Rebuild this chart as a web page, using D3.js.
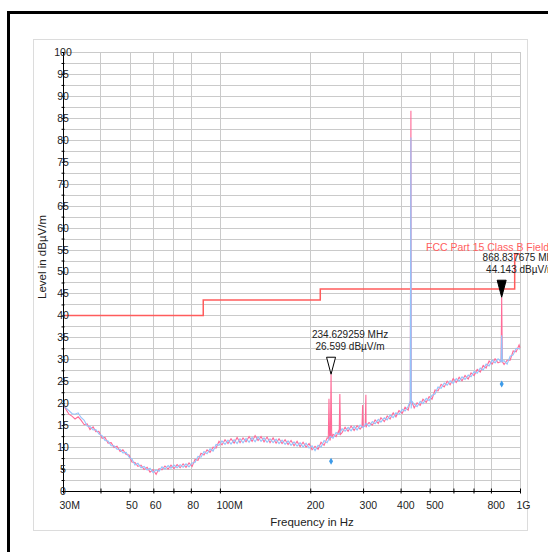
<!DOCTYPE html>
<html>
<head>
<meta charset="utf-8">
<script src="https://cdnjs.cloudflare.com/ajax/libs/d3/7.8.5/d3.min.js"></script>
<style>
  body { margin: 0; background: #fff; }
  svg { display: block; font-family: 'Liberation Sans', Arial, sans-serif; }
</style>
</head>
<body>
<div id="chart"></div>
<script>
// sweep frequencies in MHz
var freq_mhz = [
  30, 30.7, 31.4, 32.2, 32.9, 33.7, 34.4, 35.3, 36.1, 36.9,
  37.8, 38.6, 39.5, 40.5, 41.4, 42.4, 43.4, 44.4, 45.4, 46.5,
  47.5, 48.7, 49.8, 50.9, 52.1, 53.3, 54.6, 55.9, 57.2, 58.5,
  59.9, 61.3, 62.7, 64.1, 65.6, 67.2, 68.7, 70.3, 72.0, 73.7,
  75.4, 77.1, 78.9, 80.8, 82.6, 84.5, 86.5, 88.5, 90.6, 92.7,
  94.9, 97.1, 99.3, 101.6, 104.0, 106.4, 108.9, 111.5, 114.1, 116.7,
  119.4, 122.2, 125.1, 128.0, 131.0, 134.0, 137.1, 140.3, 143.6, 146.9,
  150.4, 153.9, 157.4, 161.1, 164.9, 168.7, 172.6, 176.6, 180.8, 185.0,
  189.3, 193.7, 198.2, 202.8, 207.5, 212.4, 217.3, 222.4, 227.6, 232.9,
  238.3, 243.8, 249.5, 255.3, 261.3, 267.4, 273.6, 280.0, 286.5, 293.2,
  300, 307, 314, 322, 329, 337, 344, 353, 361, 369,
  378, 386, 395, 405, 414, 424, 434, 444, 454, 465,
  475, 487, 498, 509, 521, 533, 546, 559, 572, 585,
  599, 613, 627, 641, 656, 672, 687, 703, 720, 737,
  754, 771, 789, 808, 826, 845, 865, 885, 906, 927,
  949, 971, 993, 1000
];

// pink trace (peak), dBuV/m
var peak_level = [
  19.6, 18.6, 17.5, 17.0, 16.4, 16.9, 16.2, 15.1, 15.3, 14.0,
  14.6, 13.5, 13.6, 12.0, 12.2, 10.9, 11.0, 9.9, 10.2, 9.0,
  9.4, 8.3, 8.2, 6.6, 6.5, 5.6, 5.9, 4.9, 5.4, 4.3,
  4.9, 3.8, 5.1, 4.8, 5.7, 5.0, 5.9, 5.1, 6.0, 5.3,
  6.2, 5.4, 6.4, 5.6, 7.2, 7.0, 8.6, 8.2, 9.4, 8.8,
  10.0, 9.8, 11.3, 10.5, 11.7, 10.8, 11.9, 10.9, 12.2, 11.0,
  12.1, 11.2, 12.4, 11.3, 12.6, 11.5, 12.4, 11.2, 12.3, 11.0,
  12.1, 10.9, 11.9, 10.8, 11.7, 10.6, 11.5, 10.3, 11.3, 10.1,
  11.1, 10.0, 10.8, 9.4, 10.2, 9.5, 11.1, 10.4, 12.1, 11.5,
  12.9, 12.4, 13.9, 13.3, 14.5, 13.6, 14.8, 13.8, 14.9, 14.1,
  15.3, 14.5, 15.6, 15.0, 16.2, 15.4, 16.7, 15.8, 17.1, 16.4,
  17.8, 16.9, 18.3, 17.7, 19.1, 18.4, 19.7, 18.9, 20.1, 19.5,
  20.9, 20.2, 21.5, 20.9, 23.0, 22.8, 24.3, 23.7, 25.0, 24.2,
  25.6, 24.7, 25.9, 25.1, 26.3, 25.5, 26.9, 26.3, 27.7, 27.1,
  28.6, 28.0, 29.6, 28.9, 30.1, 29.2, 30.1, 28.8, 29.8, 29.8,
  31.9, 31.7, 33.3, 32.6
];

// blue trace, dBuV/m
var avg_level = [
  19.4, 18.9, 18.3, 17.6, 17.5, 17.8, 16.8, 16.1, 14.8, 14.7,
  13.9, 14.0, 13.0, 12.6, 11.5, 11.4, 10.3, 10.3, 9.5, 9.5,
  8.7, 8.8, 7.7, 7.3, 5.9, 6.3, 5.3, 5.6, 4.8, 5.2,
  4.2, 4.8, 4.5, 5.5, 5.0, 5.8, 5.2, 5.9, 5.3, 6.0,
  5.4, 6.2, 5.5, 6.4, 6.5, 7.9, 7.7, 9.0, 8.5, 9.6,
  9.1, 10.6, 10.4, 11.4, 10.6, 11.6, 10.7, 11.7, 10.8, 11.9,
  11.0, 12.0, 11.1, 12.2, 11.2, 12.3, 11.3, 12.1, 11.1, 11.9,
  11.0, 11.8, 10.8, 11.6, 10.6, 11.4, 10.4, 11.2, 10.2, 11.0,
  10.0, 10.9, 9.8, 10.3, 9.2, 10.4, 10.0, 11.5, 11.0, 12.4,
  12.0, 13.3, 12.9, 14.2, 13.6, 14.5, 13.7, 14.7, 13.9, 15.0,
  14.4, 15.4, 14.7, 15.8, 15.3, 16.3, 15.7, 16.7, 16.2, 17.3,
  16.7, 17.8, 17.4, 18.6, 18.2, 19.3, 18.8, 19.8, 19.2, 20.4,
  19.9, 21.1, 20.6, 21.8, 22.1, 23.7, 23.4, 24.6, 24.1, 25.1,
  24.5, 25.6, 25.0, 26.0, 25.4, 26.4, 26.0, 27.2, 26.8, 28.0,
  27.5, 28.9, 28.5, 29.8, 29.2, 30.1, 29.3, 29.7, 28.9, 30.7,
  31.0, 32.5, 32.4, 32.3
];

// narrow emissions on top of the noise floor
var peak_spike_freq = [230.9, 234.629259, 251, 299, 306.5, 433, 868.837675];
var peak_spike_top = [21.0, 26.599, 22.1, 19.6, 21.9, 86.6, 44.143];
var peak_spike_base = [12.0, 12.2, 12.9, 14.7, 14.9, 20.5, 29.5];
var avg_spike_freq = [433, 868.837675];
var avg_spike_top = [80.5, 35.5];
var avg_spike_base = [20.5, 29.5];

// FCC Part 15 Class B limit
var limit_freq = [30, 88, 88, 216, 216, 960, 960, 1000];
var limit_level = [40, 40, 43.5, 43.5, 46, 46, 54, 54];

var x_ticks = [30, 40, 50, 60, 70, 80, 100, 200, 300, 400, 500, 600, 700, 800, 1000];
var x_tick_labels = ['30M', '', '50', '60', '', '80', '100M', '200', '300', '400', '500', '', '', '800', '1G'];
var y_ticks = [0, 2.5, 5, 7.5, 10, 12.5, 15, 17.5, 20, 22.5, 25, 27.5, 30, 32.5, 35, 37.5, 40, 42.5, 45, 47.5,
  50, 52.5, 55, 57.5, 60, 62.5, 65, 67.5, 70, 72.5, 75, 77.5, 80, 82.5, 85, 87.5, 90, 92.5, 95, 97.5, 100];

var marker_freq = [234.629259, 868.837675];
var marker_level = [26.599, 44.143];
var marker_filled = [false, true];
var marker_text = [['234.629259 MHz', '26.599 dB\u00b5V/m'], ['868.837675 MHz', '44.143 dB\u00b5V/m']];
var marker2_level = [6.8, 24.4];

(function() {
  'use strict';

  var svg_width = 548;
  var svg_height = 552;
  var left = 63, right = 520, top = 52, bottom = 491;

  var svg = d3.select('#chart').append('svg')
    .attr('width', svg_width)
    .attr('height', svg_height);

  var x = d3.scaleLog().domain([30, 1000]).range([left, right]);
  var y = d3.scaleLinear().domain([0, 100]).range([bottom, top]);

  // outer frame + panel
  svg.append('rect')
    .attr('x', 8.5).attr('y', 12.5)
    .attr('width', 600).attr('height', 600)
    .attr('fill', 'none').attr('stroke', '#000').attr('stroke-width', 3);
  svg.append('rect')
    .attr('x', 33.5).attr('y', 39.5)
    .attr('width', 494).attr('height', 491)
    .attr('fill', '#fff').attr('stroke', '#dcdcdc');

  // grid
  var grid = svg.append('g').attr('stroke', '#cacaca').attr('stroke-width', 1);
  grid.selectAll('line.h')
    .data(y_ticks)
    .enter()
    .append('line')
    .attr('class', 'h')
    .attr('x1', left).attr('x2', right)
    .attr('y1', function(d) { return Math.round(y(d)) + 0.5; })
    .attr('y2', function(d) { return Math.round(y(d)) + 0.5; });
  grid.selectAll('line.v')
    .data(x_ticks.slice(1))
    .enter()
    .append('line')
    .attr('class', 'v')
    .attr('y1', top).attr('y2', bottom)
    .attr('x1', function(d) { return Math.round(x(d)) + 0.5; })
    .attr('x2', function(d) { return Math.round(x(d)) + 0.5; });

  // limit line
  var limit_data = limit_freq.map(function(f, i) { return {f: f, v: limit_level[i]}; });
  var line = d3.line()
    .x(function(d) { return x(d.f); })
    .y(function(d) { return y(d.v); });

  svg.append('path')
    .datum(limit_data)
    .attr('d', line)
    .attr('fill', 'none')
    .attr('stroke', '#ff5c5c')
    .attr('stroke-width', 1.5);

  function build_trace(levels, s_freq, s_top, s_base) {
    var pts = freq_mhz.map(function(f, i) { return {f: f, v: levels[i]}; });
    s_freq.forEach(function(f, i) {
      pts.push({f: f * 0.995, v: s_base[i]});
      pts.push({f: f, v: s_top[i]});
      pts.push({f: f * 1.005, v: s_base[i]});
    });
    pts.sort(function(a, b) { return a.f - b.f; });
    return pts;
  }

  svg.append('path')
    .datum(build_trace(peak_level, peak_spike_freq, peak_spike_top, peak_spike_base))
    .attr('d', line)
    .attr('fill', 'none')
    .attr('stroke', '#ff6b98')
    .attr('stroke-width', 1.1);

  svg.append('path')
    .datum(build_trace(avg_level, avg_spike_freq, avg_spike_top, avg_spike_base))
    .attr('d', line)
    .attr('fill', 'none')
    .attr('stroke', '#94c4fb')
    .attr('stroke-width', 1.1);

  // axes
  var x_axis = svg.append('g')
    .attr('transform', 'translate(0,' + bottom + ')')
    .call(d3.axisBottom(x)
      .tickValues(x_ticks)
      .tickSizeOuter(0)
      .tickFormat(function(d, i) { return x_tick_labels[i]; }));
  x_axis.select('.domain').attr('stroke', '#000');
  x_axis.selectAll('.tick line').attr('y1', -2.5).attr('y2', 2.5).attr('stroke', '#000');
  x_axis.selectAll('.tick text')
    .attr('x', -4).attr('y', 17.5).attr('dy', 0)
    .attr('text-anchor', 'start')
    .attr('font-size', 10.5)
    .attr('fill', '#222');

  var y_axis = svg.append('g')
    .attr('transform', 'translate(' + left + ',0)')
    .call(d3.axisLeft(y)
      .tickValues(y_ticks)
      .tickSizeOuter(0)
      .tickFormat(function(d) { return d % 5 === 0 ? d : ''; }));
  y_axis.select('.domain').attr('stroke', '#000');
  y_axis.selectAll('.tick line').attr('x1', -1.5).attr('x2', 1.5).attr('stroke', '#000');
  y_axis.selectAll('.tick text')
    .attr('x', 0).attr('dy', '0.33em')
    .attr('text-anchor', 'middle')
    .attr('font-size', 10.5)
    .attr('fill', '#222');
  svg.selectAll('.tick text').attr('font-family', null);

  // axis titles
  svg.append('text')
    .attr('x', 312).attr('y', 526)
    .attr('text-anchor', 'middle')
    .attr('font-size', 11.5)
    .attr('fill', '#222')
    .text('Frequency in Hz');
  svg.append('text')
    .attr('transform', 'translate(46,257) rotate(-90)')
    .attr('text-anchor', 'middle')
    .attr('font-size', 11.5)
    .attr('fill', '#222')
    .text('Level in dB\u00b5V/m');

  // limit label
  svg.append('text')
    .attr('x', 426).attr('y', 250.5)
    .attr('font-size', 10.5)
    .attr('fill', '#ff6060')
    .text('FCC Part 15 Class B Field');

  // markers
  var m = svg.selectAll('g.marker')
    .data(marker_freq)
    .enter()
    .append('g')
    .attr('class', 'marker')
    .attr('transform', function(d, i) {
      return 'translate(' + x(d) + ',' + y(marker_level[i]) + ')';
    });
  m.append('path')
    .attr('d', 'M-4.5,-17L4.5,-17L0,0Z')
    .attr('fill', function(d, i) { return marker_filled[i] ? '#000' : '#fff'; })
    .attr('stroke', '#000')
    .attr('stroke-width', 1);
  m.each(function(d, i) {
    var g = d3.select(this);
    marker_text[i].forEach(function(t, j) {
      g.append('text')
        .attr('x', 19)
        .attr('y', -36 + j * 12)
        .attr('text-anchor', 'middle')
        .attr('font-size', 10)
        .attr('fill', '#222')
        .text(t);
    });
  });

  svg.selectAll('path.m2')
    .data(marker_freq)
    .enter()
    .append('path')
    .attr('class', 'm2')
    .attr('transform', function(d, i) {
      return 'translate(' + x(d) + ',' + y(marker2_level[i]) + ')';
    })
    .attr('d', 'M0,-3.5L2,0L0,3.5L-2,0Z')
    .attr('fill', '#3d9be9');

})();
</script>
</body>
</html>
